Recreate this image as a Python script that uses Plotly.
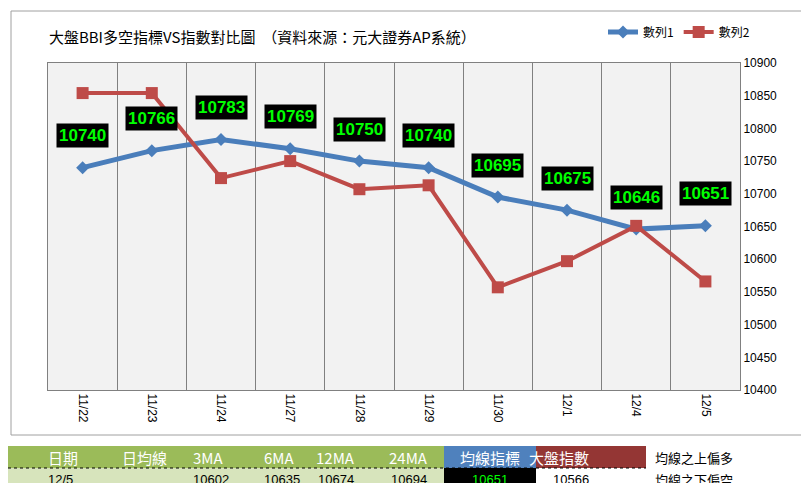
import plotly.graph_objects as go

dates = ["11/22", "11/23", "11/24", "11/27", "11/28", "11/29", "11/30", "12/1", "12/4", "12/5"]
bbi = [10740, 10766, 10783, 10769, 10750, 10740, 10695, 10675, 10646, 10651]
index = [10854, 10854, 10724, 10750, 10707, 10713, 10557, 10597, 10651, 10566]

table_head = ["日期", "日均線", "3MA", "6MA", "12MA", "24MA", "均線指標", "大盤指數"]
table_row = ["12/5", "", "10602", "10635", "10674", "10694", "10651", "10566"]
notes = ["均線之上偏多", "均線之下偏空"]

W, H = 809, 483
L, R, T, B = 40, 732, 55, 382
FONT = "Noto Sans CJK TC"


def px(x):
    return (x - L) / (R - L)


def py(y):
    return (B - y) / (B - T)


xs = list(range(len(dates)))
fig = go.Figure()
fig.add_trace(go.Scatter(x=xs, y=bbi, name="數列1", mode="lines+markers",
                         line=dict(color="#4a7ebb", width=5),
                         marker=dict(symbol="diamond", size=10, color="#4a7ebb")))
fig.add_trace(go.Scatter(x=xs, y=index, name="數列2", mode="lines+markers",
                         line=dict(color="#be4b48", width=4),
                         marker=dict(symbol="square", size=12, color="#be4b48")))

for x, v in zip(xs, bbi):
    fig.add_annotation(x=x, y=v, text=f"<b>{v}</b>", showarrow=False, yshift=32,
                       bgcolor="black", font=dict(color="#00ff00", size=17, family="Arial"),
                       borderpad=2)

shapes = [dict(type="rect", xref="paper", yref="paper", x0=px(3), x1=px(800),
               y0=py(427), y1=py(3), line=dict(color="#a0a0a0", width=1), layer="below")]

# table
col_x = [0, 76, 148, 218, 290, 365, 436, 528, 638]
head_fill = ["#9bbb59"] * 6 + ["#4f81bd", "#943634"]
row_fill = ["#d7e4bc"] * 6 + ["black", "white"]
row_color = ["black"] * 6 + ["#00ff00", "black"]
for i in range(len(table_head)):
    x0, x1 = col_x[i], col_x[i + 1]
    shapes.append(dict(type="rect", xref="paper", yref="paper", x0=px(x0), x1=px(x1),
                       y0=py(460), y1=py(438), fillcolor=head_fill[i], line=dict(width=0)))
    shapes.append(dict(type="rect", xref="paper", yref="paper", x0=px(x0), x1=px(x1),
                       y0=py(482), y1=py(460), fillcolor=row_fill[i], line=dict(width=0)))
    fig.add_annotation(xref="paper", yref="paper", x=px((x0 + x1) / 2), y=py(449),
                       text=table_head[i], showarrow=False, yanchor="middle",
                       font=dict(color="white", size=15, family=FONT))
    fig.add_annotation(xref="paper", yref="paper", x=px((x0 + x1) / 2), y=py(471),
                       text=table_row[i], showarrow=False, yanchor="middle",
                       font=dict(color=row_color[i], size=13, family="Arial"))
shapes.append(dict(type="line", xref="paper", yref="paper", x0=px(0), x1=px(638),
                   y0=py(460), y1=py(460), line=dict(color="black", width=1, dash="dot")))
for j, n in enumerate(notes):
    fig.add_annotation(xref="paper", yref="paper", x=px(645), y=py(449 + 22 * j), xanchor="left",
                       yanchor="middle", text=n, showarrow=False,
                       font=dict(color="black", size=13, family=FONT))

fig.update_layout(
    width=W, height=H,
    margin=dict(l=L, r=W - R, t=T, b=H - B, autoexpand=False),
    paper_bgcolor="white", plot_bgcolor="#f2f2f2",
    font=dict(family=FONT, size=12, color="black"),
    title=dict(text="大盤BBI多空指標VS指數對比圖  （資料來源：元大證券AP系統）",
               x=px(75), xanchor="left", y=1 - 30 / H, yanchor="middle",
               font=dict(size=15)),
    legend=dict(orientation="h", x=px(595), y=py(24), xanchor="left", yanchor="middle",
                font=dict(size=12), bgcolor="rgba(0,0,0,0)"),
    shapes=shapes,
    xaxis=dict(range=[-0.5, len(dates) - 0.5], tickvals=xs, ticktext=dates, tickangle=90,
               showgrid=False, zeroline=False, showline=True, linecolor="#808080",
               mirror=True, tickfont=dict(size=12, family="Arial"), automargin=False,
               minor=dict(tickvals=[i - 0.5 for i in range(len(dates) + 1)], showgrid=True,
                          gridcolor="#808080", gridwidth=1)),
    yaxis=dict(range=[10400, 10900], dtick=50, side="right", showgrid=False, zeroline=False,
               showline=True, linecolor="#808080", mirror=True, tickformat="d",
               automargin=False, tickfont=dict(size=12, family="Arial")),
)

fig.write_html("out.html")
